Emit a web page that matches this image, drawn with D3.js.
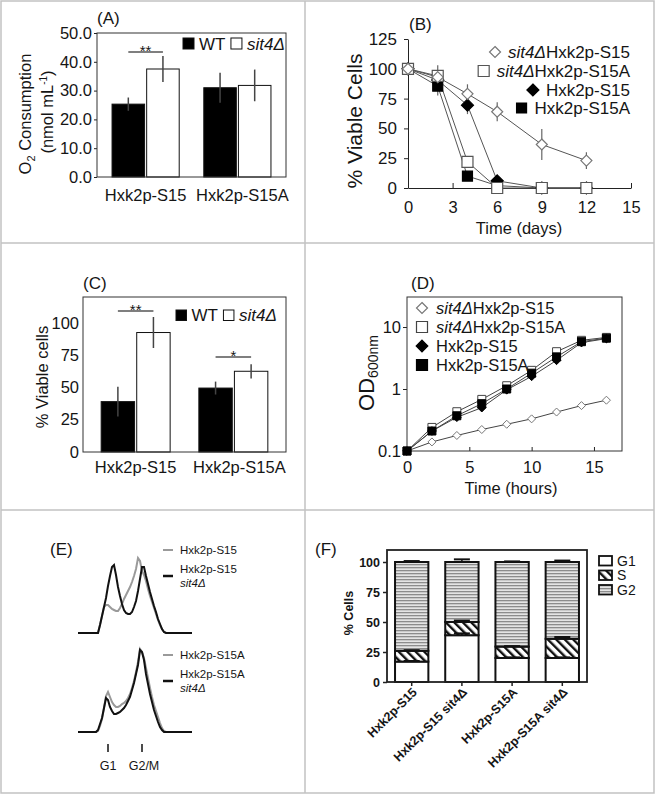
<!DOCTYPE html>
<html><head><meta charset="utf-8">
<script src="https://cdn.jsdelivr.net/npm/d3@7"></script>
<style>
body{margin:0;background:#fff}
svg{display:block}
text{font-family:"Liberation Sans",Arial,Helvetica,sans-serif;fill:#151515}
</style>
</head><body>
<svg id="c" width="658" height="795"></svg>
<script>
// ================= DATA =================
// Panels A & C (grouped bars)
const groupsAC = ["Hxk2p-S15", "Hxk2p-S15A"];
const seriesAC = ["WT", "sit4Δ"];
// (A) O2 consumption
const o2WT = [25.3, 31.0];
const o2WTErr = [2.3, 5.2];
const o2Sit4 = [37.5, 31.8];
const o2Sit4Err = [4.5, 5.5];
const o2Ticks = [0, 10, 20, 30, 40, 50];
const o2Sig = [{group: "Hxk2p-S15", label: "**", value: 43.4}];
// (B) viability over days
const daysB = [0, 2, 4, 6, 9, 12];
const seriesB = ["sit4ΔHxk2p-S15", "sit4ΔHxk2p-S15A", "Hxk2p-S15", "Hxk2p-S15A"];
const bSit4S15 = [100, 93, 79, 64, 36.5, 23];
const bSit4S15Err = [0, 10, 8, 8, 13, 7];
const bSit4S15A = [100, 94, 22, 0, 0, 0];
const bSit4S15AErr = [0, 3, 3, 0, 0, 0];
const bS15 = [100, 90.5, 69.5, 6, 0, 0];
const bS15Err = [0, 4, 7.5, 0, 0, 0];
const bS15A = [100, 85.5, 10, 2, 0, 0];
const bS15AErr = [0, 8, 0, 0, 0, 0];
const bXTicks = [0, 3, 6, 9, 12, 15];
const bYTicks = [0, 25, 50, 75, 100, 125];
// (C) viable cells
const viaWT = [39, 49.5];
const viaWTErr = [11.5, 5];
const viaSit4 = [92.5, 62.5];
const viaSit4Err = [12, 5.5];
const viaTicks = [0, 25, 50, 75, 100];
const viaSig = [{group: "Hxk2p-S15", label: "**", value: 109.2}, {group: "Hxk2p-S15A", label: "*", value: 73.5}];
// (D) growth OD600
const hoursD = [0, 2, 4, 6, 8, 10, 12, 14, 16];
const dSit4S15 = [0.1, 0.14, 0.178, 0.222, 0.27, 0.33, 0.425, 0.54, 0.66];
const dSit4S15A = [0.1, 0.24, 0.43, 0.68, 1.13, 2.0, 4.0, 6.1, 6.8];
const dS15 = [0.1, 0.21, 0.35, 0.5, 0.97, 1.6, 2.9, 5.6, 6.5];
const dS15A = [0.1, 0.21, 0.37, 0.58, 1.0, 1.8, 3.3, 5.8, 6.6];
const dXTicks = [0, 5, 10, 15];
const dYTicks = [0.1, 1, 10];
// (E) DNA content histograms (channel counts)
const eTopWT = [0,0,0,0,0,0,0,0,0, 0,0,8,17,26,28,28,26,24,23,22,22,25,29,34,38,42,46,51,57,64,75,72,62,58,52,44,37,31,25,19,13,8,4,1,0,0, 0,0,0,0,0,0,0,0,0,0,0,0];
const eTopSit4 = [0,0,0,0,0,0,0,0,0, 0,0,8,17,26,35,47,57,66,68,58,46,37,29,23,20,19,19,21,26,32,42,54,66,66,57,49,41,34,27,21,14,9,4,1,0,0, 0,0,0,0,0,0,0,0,0,0,0,0];
const eBotWT = [0,0,0,0,0,0,0,0,0, 0,1,6,13,24,36,40,35,30,27,25,25,26,28,29,31,34,38,44,51,60,70,83,80,74,64,54,44,35,27,21,15,9,4,1,0,0, 0,0,0,0,0,0,0,0,0,0,0,0];
const eBotSit4 = [0,0,0,0,0,0,0,0,0, 0,2,8,14,24,34,32,25,21,18,18,19,20,22,24,27,31,35,42,49,58,67,82,80,72,58,48,38,30,22,16,10,5,2,0,0,0, 0,0,0,0,0,0,0,0,0,0,0,0];
const eMarks = [{label: "G1", channel: 15}, {label: "G2/M", channel: 32}];
// (F) cell cycle distribution
const catsF = ["Hxk2p-S15", "Hxk2p-S15 sit4Δ", "Hxk2p-S15A", "Hxk2p-S15A sit4Δ"];
const phasesF = ["G1", "S", "G2"];
const fG1 = [17, 39, 20, 20];
const fS = [9, 11, 9.5, 16];
const fG2 = [74, 50, 70.5, 64];
const fG1Err = [0.5, 1.5, 0.5, 0.5];
const fSErr = [0.5, 1.2, 0.4, 1.5];
const fG2Err = [0.8, 2.2, 0.5, 1.2];
const fTicks = [0, 25, 50, 75, 100];

// ================= DRAWING =================
const FONT = '"Liberation Sans", Arial, Helvetica, sans-serif';
const svg = d3.select("#c");
svg.append("rect").attr("width", 658).attr("height", 795).attr("fill", "#fff");

// panel grid
const grid = svg.append("g").attr("stroke", "#c2c2c2").attr("fill", "none").attr("stroke-width", 1.5);
grid.append("rect").attr("x", 1).attr("y", 1).attr("width", 653).attr("height", 792);
grid.append("line").attr("x1", 305).attr("x2", 305).attr("y1", 1).attr("y2", 793);
grid.append("line").attr("x1", 1).attr("x2", 654).attr("y1", 243).attr("y2", 243);
grid.append("line").attr("x1", 1).attr("x2", 654).attr("y1", 510).attr("y2", 510);

function styleAxis(ag, fs, weight) {
  ag.attr("font-family", FONT).attr("font-size", fs);
  ag.selectAll("text").attr("fill", "#151515").attr("font-weight", weight || null);
  ag.selectAll("line").attr("stroke", "#222");
  ag.selectAll(".domain").attr("stroke", "#222");
}

function text(g, x, y, str, fs, opts) {
  opts = opts || {};
  const t = g.append("text").attr("x", x).attr("y", y).attr("font-size", fs).text(str);
  if (opts.anchor) t.attr("text-anchor", opts.anchor);
  if (opts.italic) t.attr("font-style", "italic");
  if (opts.weight) t.attr("font-weight", opts.weight);
  return t;
}

// ---------- grouped bar panel (A, C) ----------
function barPanel(o) {
  const g = svg.append("g");
  const x0 = d3.scaleBand().domain(o.groups).range([o.left, o.right]).paddingInner(o.pi).paddingOuter(o.po);
  const x1 = d3.scaleBand().domain(o.series).range([0, x0.bandwidth()]).paddingInner(0.06);
  const y = d3.scaleLinear().domain(o.yDomain).range([o.bottom, o.top]);
  const ag = g.append("g").attr("transform", `translate(${o.left},0)`)
    .call(d3.axisLeft(y).tickValues(o.yTicks).tickFormat(o.fmt).tickSizeInner(o.tick).tickSizeOuter(0).tickPadding(o.pad));
  ag.select(".domain").remove();
  styleAxis(ag, o.fs);
  const vals = [o.v0, o.v1], errs = [o.e0, o.e1];
  o.series.forEach((s, si) => {
    g.selectAll(null).data(o.groups).enter().append("rect")
      .attr("x", d => x0(d) + x1(s)).attr("width", x1.bandwidth())
      .attr("y", (d, i) => y(vals[si][i])).attr("height", (d, i) => y(0) - y(vals[si][i]))
      .attr("fill", si === 0 ? "#000" : "#fff").attr("stroke", "#111").attr("stroke-width", 1);
  });
  o.series.forEach((s, si) => {
    g.selectAll(null).data(o.groups).enter().append("line")
      .attr("x1", d => x0(d) + x1(s) + x1.bandwidth() / 2).attr("x2", d => x0(d) + x1(s) + x1.bandwidth() / 2)
      .attr("y1", (d, i) => y(vals[si][i] - errs[si][i])).attr("y2", (d, i) => y(vals[si][i] + errs[si][i]))
      .attr("stroke", "#444").attr("stroke-width", 1.5);
  });
  // significance
  o.sig.forEach(sg => {
    const xa = x0(sg.group) + x1(o.series[0]) + x1.bandwidth() / 2;
    const xb = x0(sg.group) + x1(o.series[1]) + x1.bandwidth() / 2;
    g.append("line").attr("x1", xa).attr("x2", xb).attr("y1", y(sg.value)).attr("y2", y(sg.value))
      .attr("stroke", "#555").attr("stroke-width", 1.5);
    text(g, (xa + xb) / 2, y(sg.value) + 4, sg.label, 15, {anchor: "middle"});
  });
  // frame
  g.append("rect").attr("x", o.left).attr("y", o.top).attr("width", o.right - o.left).attr("height", o.bottom - o.top)
    .attr("fill", "none").attr("stroke", "#333").attr("stroke-width", 1);
  // category labels
  o.groups.forEach((gr, i) => text(g, x0(gr) + x0.bandwidth() / 2 + o.catShift[i], o.catY, gr, o.fs, {anchor: "middle"}));
  // legend
  let lx = o.legX;
  o.series.forEach((s, si) => {
    g.append("rect").attr("x", lx).attr("y", o.legY).attr("width", o.legS).attr("height", o.legS)
      .attr("fill", si === 0 ? "#000" : "#fff").attr("stroke", "#111");
    const t = text(g, lx + o.legS + 5, o.legY + o.legS + 0.5, s, 17, {italic: si === 1});
    lx = lx + o.legS + 5 + t.node().getComputedTextLength() + 5.5;
  });
  text(g, o.left, o.tagY, o.tag, 17);
  return g;
}

// (A)
const gA = barPanel({
  groups: groupsAC, series: seriesAC, left: 97, right: 286, top: 33, bottom: 177,
  pi: 0.268, po: 0.164, yDomain: [0, 50], yTicks: o2Ticks, fmt: d3.format(".1f"), tick: 3, pad: 2, fs: 16.5,
  v0: o2WT, v1: o2Sit4, e0: o2WTErr, e1: o2Sit4Err, sig: o2Sig, catY: 200.5, catShift: [0, 5],
  legX: 183, legY: 38, legS: 11, tag: "(A)", tagY: 24
});
{
  const t1 = gA.append("text").attr("transform", "translate(31,114) rotate(-90)").attr("text-anchor", "middle").attr("font-size", 16.5);
  t1.append("tspan").text("O");
  t1.append("tspan").attr("font-size", 11).attr("dy", 4).text("2");
  t1.append("tspan").attr("dy", -4).text(" Consumption");
  const t2 = gA.append("text").attr("transform", "translate(53,112) rotate(-90)").attr("text-anchor", "middle").attr("font-size", 16.5);
  t2.append("tspan").text("(nmol mL");
  t2.append("tspan").attr("font-size", 10).attr("dy", -6).text("-1");
  t2.append("tspan").attr("dy", 6).text(")");
}

// (C)
const gC = barPanel({
  groups: groupsAC, series: seriesAC, left: 83, right: 286, top: 297, bottom: 452,
  pi: 0.294, po: 0.186, yDomain: [0, 120], yTicks: viaTicks, fmt: d3.format("d"), tick: 0, pad: 4, fs: 16.5,
  v0: viaWT, v1: viaSit4, e0: viaWTErr, e1: viaSit4Err, sig: viaSig, catY: 473, catShift: [0, 6],
  legX: 176, legY: 310, legS: 10.5, tag: "(C)", tagY: 289
});
gC.append("text").attr("transform", "translate(48,377) rotate(-90)").attr("text-anchor", "middle")
  .attr("font-size", 16.5).text("% Viable cells");

// marker path helper
function markerPath(shape, r) {
  if (shape === "diamond") return `M0,${-r}L${r},0L0,${r}L${-r},0Z`;
  return `M${-r},${-r}H${r}V${r}H${-r}Z`;
}

// ---------- (B) ----------
{
  const g = svg.append("g");
  const x = d3.scaleLinear().domain([0, 15]).range([408, 631]);
  const y = d3.scaleLinear().domain([0, 125]).range([188, 39]);
  const ay = g.append("g").attr("transform", "translate(408,0)")
    .call(d3.axisLeft(y).tickValues(bYTicks).tickSizeInner(4).tickSizeOuter(0).tickPadding(7));
  styleAxis(ay, 17);
  const ax = g.append("g").attr("transform", "translate(0,188)")
    .call(d3.axisBottom(x).tickValues(bXTicks).tickSizeInner(-5).tickSizeOuter(0).tickPadding(13));
  styleAxis(ax, 16.5);
  const series = [
    {name: seriesB[3], v: bS15A, e: bS15AErr, shape: "square", fill: "#000", stroke: "#000", r: 5},
    {name: seriesB[2], v: bS15, e: bS15Err, shape: "diamond", fill: "#000", stroke: "#000", r: 6},
    {name: seriesB[1], v: bSit4S15A, e: bSit4S15AErr, shape: "square", fill: "#fff", stroke: "#555", r: 5.5},
    {name: seriesB[0], v: bSit4S15, e: bSit4S15Err, shape: "diamond", fill: "#fff", stroke: "#777", r: 5.5}
  ];
  const line = d3.line().x((d, i) => x(daysB[i])).y(d => y(d));
  series.forEach(s => {
    g.append("path").attr("d", line(s.v)).attr("fill", "none").attr("stroke", "#555").attr("stroke-width", 1);
  });
  series.forEach(s => {
    const pts = s.v.map((v, i) => ({t: daysB[i], v: v, e: s.e[i]})).filter(p => p.e > 0);
    g.selectAll(null).data(pts).enter().append("line")
      .attr("x1", p => x(p.t)).attr("x2", p => x(p.t))
      .attr("y1", p => y(p.v - p.e)).attr("y2", p => y(p.v + p.e))
      .attr("stroke", "#666").attr("stroke-width", 1.2);
  });
  series.forEach(s => {
    g.selectAll(null).data(s.v).enter().append("path")
      .attr("transform", (d, i) => `translate(${x(daysB[i])},${y(d)})`)
      .attr("d", markerPath(s.shape, s.r)).attr("fill", s.fill).attr("stroke", s.stroke).attr("stroke-width", 1.2);
  });
  // legend (right aligned)
  const legOrder = [series[3], series[2], series[1], series[0]];
  const legY = [52, 71, 90, 108];
  legOrder.forEach((s, i) => {
    const t = g.append("text").attr("x", 630).attr("y", legY[i] + 6).attr("text-anchor", "end").attr("font-size", 17);
    if (s.name.startsWith("sit4Δ")) {
      t.append("tspan").attr("font-style", "italic").text("sit4Δ");
      t.append("tspan").text(s.name.slice(5));
    } else t.text(s.name);
    const w = t.node().getComputedTextLength();
    g.append("path").attr("transform", `translate(${630 - w - 13},${legY[i]})`)
      .attr("d", markerPath(s.shape, s.r)).attr("fill", s.fill).attr("stroke", s.stroke).attr("stroke-width", 1.2);
  });
  text(g, 409, 30, "(B)", 17);
  text(g, 519, 234, "Time (days)", 16.5, {anchor: "middle"});
  g.append("text").attr("transform", "translate(362,121) rotate(-90)").attr("text-anchor", "middle")
    .attr("font-size", 21).text("% Viable Cells");
}

// ---------- (D) ----------
{
  const g = svg.append("g");
  const x = d3.scaleLinear().domain([0, 17.25]).range([407, 622]);
  const y = d3.scaleLog().domain([0.1, 30.5]).range([451, 297]);
  const ay = g.append("g").attr("transform", "translate(407,0)")
    .call(d3.axisLeft(y).tickValues(dYTicks).tickFormat(d => String(d)).tickSizeInner(4).tickSizeOuter(0).tickPadding(2));
  ay.select(".domain").remove();
  styleAxis(ay, 16.5);
  const ax = g.append("g").attr("transform", "translate(0,451)")
    .call(d3.axisBottom(x).tickValues(dXTicks).tickSizeInner(-4).tickSizeOuter(0).tickPadding(10));
  ax.select(".domain").remove();
  styleAxis(ax, 16.5);
  g.append("rect").attr("x", 407).attr("y", 297).attr("width", 215).attr("height", 154)
    .attr("fill", "none").attr("stroke", "#333").attr("stroke-width", 1);
  const series = [
    {name: seriesB[0], v: dSit4S15, shape: "diamond", fill: "#fff", stroke: "#777", r: 4},
    {name: seriesB[1], v: dSit4S15A, shape: "square", fill: "#fff", stroke: "#444", r: 4},
    {name: seriesB[2], v: dS15, shape: "diamond", fill: "#000", stroke: "#000", r: 4.3},
    {name: seriesB[3], v: dS15A, shape: "square", fill: "#000", stroke: "#000", r: 4}
  ];
  const line = d3.line().x((d, i) => x(hoursD[i])).y(d => y(d));
  series.forEach(s => g.append("path").attr("d", line(s.v)).attr("fill", "none").attr("stroke", "#444").attr("stroke-width", 1));
  series.forEach(s => {
    g.selectAll(null).data(s.v).enter().append("path")
      .attr("transform", (d, i) => `translate(${x(hoursD[i])},${y(d)})`)
      .attr("d", markerPath(s.shape, s.r)).attr("fill", s.fill).attr("stroke", s.stroke).attr("stroke-width", 1);
  });
  const legY = [308, 327, 346, 365];
  series.forEach((s, i) => {
    g.append("path").attr("transform", `translate(422,${legY[i]})`)
      .attr("d", markerPath(s.shape, s.r + 1.5)).attr("fill", s.fill).attr("stroke", s.stroke).attr("stroke-width", 1.2);
    const t = g.append("text").attr("x", 436).attr("y", legY[i] + 6).attr("font-size", 16.5);
    if (s.name.startsWith("sit4Δ")) {
      t.append("tspan").attr("font-style", "italic").text("sit4Δ");
      t.append("tspan").text(s.name.slice(5));
    } else t.text(s.name);
  });
  text(g, 411, 289, "(D)", 17);
  text(g, 511, 494, "Time (hours)", 16.5, {anchor: "middle"});
  const t = g.append("text").attr("transform", "translate(374,373) rotate(-90)").attr("text-anchor", "middle").attr("font-size", 22);
  t.append("tspan").text("OD");
  t.append("tspan").attr("font-size", 14).attr("dy", 4).text("600nm");
}

// ---------- (E) ----------
{
  const g = svg.append("g");
  const x = d3.scaleLinear().domain([0, eTopWT.length - 1]).range([78, 192]);
  const yTop = d3.scaleLinear().domain([0, 100]).range([633, 533]);
  const yBot = d3.scaleLinear().domain([0, 100]).range([732, 632]);
  const lineT = d3.line().x((d, i) => x(i)).y(d => yTop(d));
  const lineB = d3.line().x((d, i) => x(i)).y(d => yBot(d));
  g.append("path").attr("d", lineT(eTopWT)).attr("fill", "none").attr("stroke", "#9a9a9a").attr("stroke-width", 2);
  g.append("path").attr("d", lineT(eTopSit4)).attr("fill", "none").attr("stroke", "#111").attr("stroke-width", 2);
  g.append("path").attr("d", lineB(eBotWT)).attr("fill", "none").attr("stroke", "#9a9a9a").attr("stroke-width", 2);
  g.append("path").attr("d", lineB(eBotSit4)).attr("fill", "none").attr("stroke", "#111").attr("stroke-width", 2);
  eMarks.forEach(m => {
    g.append("line").attr("x1", x(m.channel)).attr("x2", x(m.channel)).attr("y1", 744).attr("y2", 752)
      .attr("stroke", "#111").attr("stroke-width", 1.5);
    text(g, x(m.channel) + (m.label === "G1" ? 0 : 2), 770, m.label, 12.5, {anchor: "middle"});
  });
  const legs = [
    {y: 550, color: "#9a9a9a", lines: [[554, "Hxk2p-S15", false]]},
    {y: 576, color: "#111", lines: [[573, "Hxk2p-S15", false], [587, "sit4Δ", true]]},
    {y: 655, color: "#9a9a9a", lines: [[659, "Hxk2p-S15A", false]]},
    {y: 681, color: "#111", lines: [[678, "Hxk2p-S15A", false], [692, "sit4Δ", true]]}
  ];
  legs.forEach(l => {
    g.append("line").attr("x1", 163).attr("x2", 173).attr("y1", l.y).attr("y2", l.y)
      .attr("stroke", l.color).attr("stroke-width", l.color === "#111" ? 2.5 : 2);
    l.lines.forEach(([yy, s, it]) => text(g, 180, yy, s, 11.5, {italic: it}));
  });
  text(g, 50, 555, "(E)", 17);
}

// ---------- (F) ----------
{
  const g = svg.append("g");
  const defs = svg.append("defs");
  const pG2 = defs.append("pattern").attr("id", "patG2").attr("patternUnits", "userSpaceOnUse").attr("width", 6).attr("height", 3);
  pG2.append("rect").attr("width", 6).attr("height", 3).attr("fill", "#e4e4e4");
  pG2.append("rect").attr("y", 0).attr("width", 6).attr("height", 1.3).attr("fill", "#8c8c8c");
  const pS = defs.append("pattern").attr("id", "patS").attr("patternUnits", "userSpaceOnUse").attr("width", 6).attr("height", 6)
    .attr("patternTransform", "rotate(-45)");
  pS.append("rect").attr("width", 6).attr("height", 6).attr("fill", "#fff");
  pS.append("rect").attr("width", 2.4).attr("height", 6).attr("fill", "#111");
  const fills = {G1: "#fff", S: "url(#patS)", G2: "url(#patG2)"};

  const x = d3.scaleBand().domain(catsF).range([387, 587]).paddingInner(0.336).paddingOuter(0.16);
  const y = d3.scaleLinear().domain([0, 110]).range([682, 550]);
  const errs = {G1: fG1Err, S: fSErr, G2: fG2Err};
  const stack = d3.stack().keys(phasesF)(catsF.map((c, i) => ({cat: c, G1: fG1[i], S: fS[i], G2: fG2[i]})));
  stack.forEach(layer => {
    g.selectAll(null).data(layer).enter().append("rect")
      .attr("x", d => x(d.data.cat)).attr("width", x.bandwidth())
      .attr("y", d => y(d[1])).attr("height", d => y(d[0]) - y(d[1]))
      .attr("fill", fills[layer.key]).attr("stroke", "#111").attr("stroke-width", 2);
  });
  stack.forEach(layer => {
    g.selectAll(null).data(layer).enter().append("g").each(function (d, i) {
      const e = errs[layer.key][i];
      const cx = x(d.data.cat) + x.bandwidth() / 2;
      const s = d3.select(this);
      s.append("line").attr("x1", cx).attr("x2", cx).attr("y1", y(d[1])).attr("y2", y(d[1] + e)).attr("stroke", "#111").attr("stroke-width", 1.5);
      s.append("line").attr("x1", cx - 8).attr("x2", cx + 8).attr("y1", y(d[1] + e)).attr("y2", y(d[1] + e)).attr("stroke", "#111").attr("stroke-width", 2);
    });
  });
  const ay = g.append("g").attr("transform", "translate(387,0)")
    .call(d3.axisLeft(y).tickValues(fTicks).tickSizeInner(4).tickSizeOuter(0).tickPadding(3));
  ay.select(".domain").remove();
  styleAxis(ay, 12.5, "bold");
  ay.selectAll("line").attr("stroke-width", 1.5);
  const ax = g.append("g").attr("transform", "translate(0,682)")
    .call(d3.axisBottom(x).tickSizeInner(4).tickSizeOuter(0).tickFormat(""));
  ax.select(".domain").remove();
  ax.selectAll("line").attr("stroke", "#222").attr("stroke-width", 1.5);
  g.append("rect").attr("x", 387).attr("y", 550).attr("width", 200).attr("height", 132)
    .attr("fill", "none").attr("stroke", "#222").attr("stroke-width", 1.8);
  catsF.forEach(c => {
    g.append("text").attr("transform", `translate(${x(c) + x.bandwidth() / 2 + 6},${693}) rotate(-45)`)
      .attr("text-anchor", "end").attr("font-size", 12.5).attr("font-weight", "bold").text(c);
  });
  g.append("text").attr("transform", "translate(353,613) rotate(-90)").attr("text-anchor", "middle")
    .attr("font-size", 12.5).attr("font-weight", "bold").text("% Cells");
  phasesF.forEach((p, i) => {
    g.append("rect").attr("x", 599).attr("y", 556 + i * 14.5).attr("width", 13).attr("height", 9.5)
      .attr("fill", fills[p]).attr("stroke", "#111").attr("stroke-width", 1.8);
    text(g, 617, 565.5 + i * 14.5, p, 14);
  });
  text(g, 315, 555, "(F)", 17);
}
</script>
</body></html>
